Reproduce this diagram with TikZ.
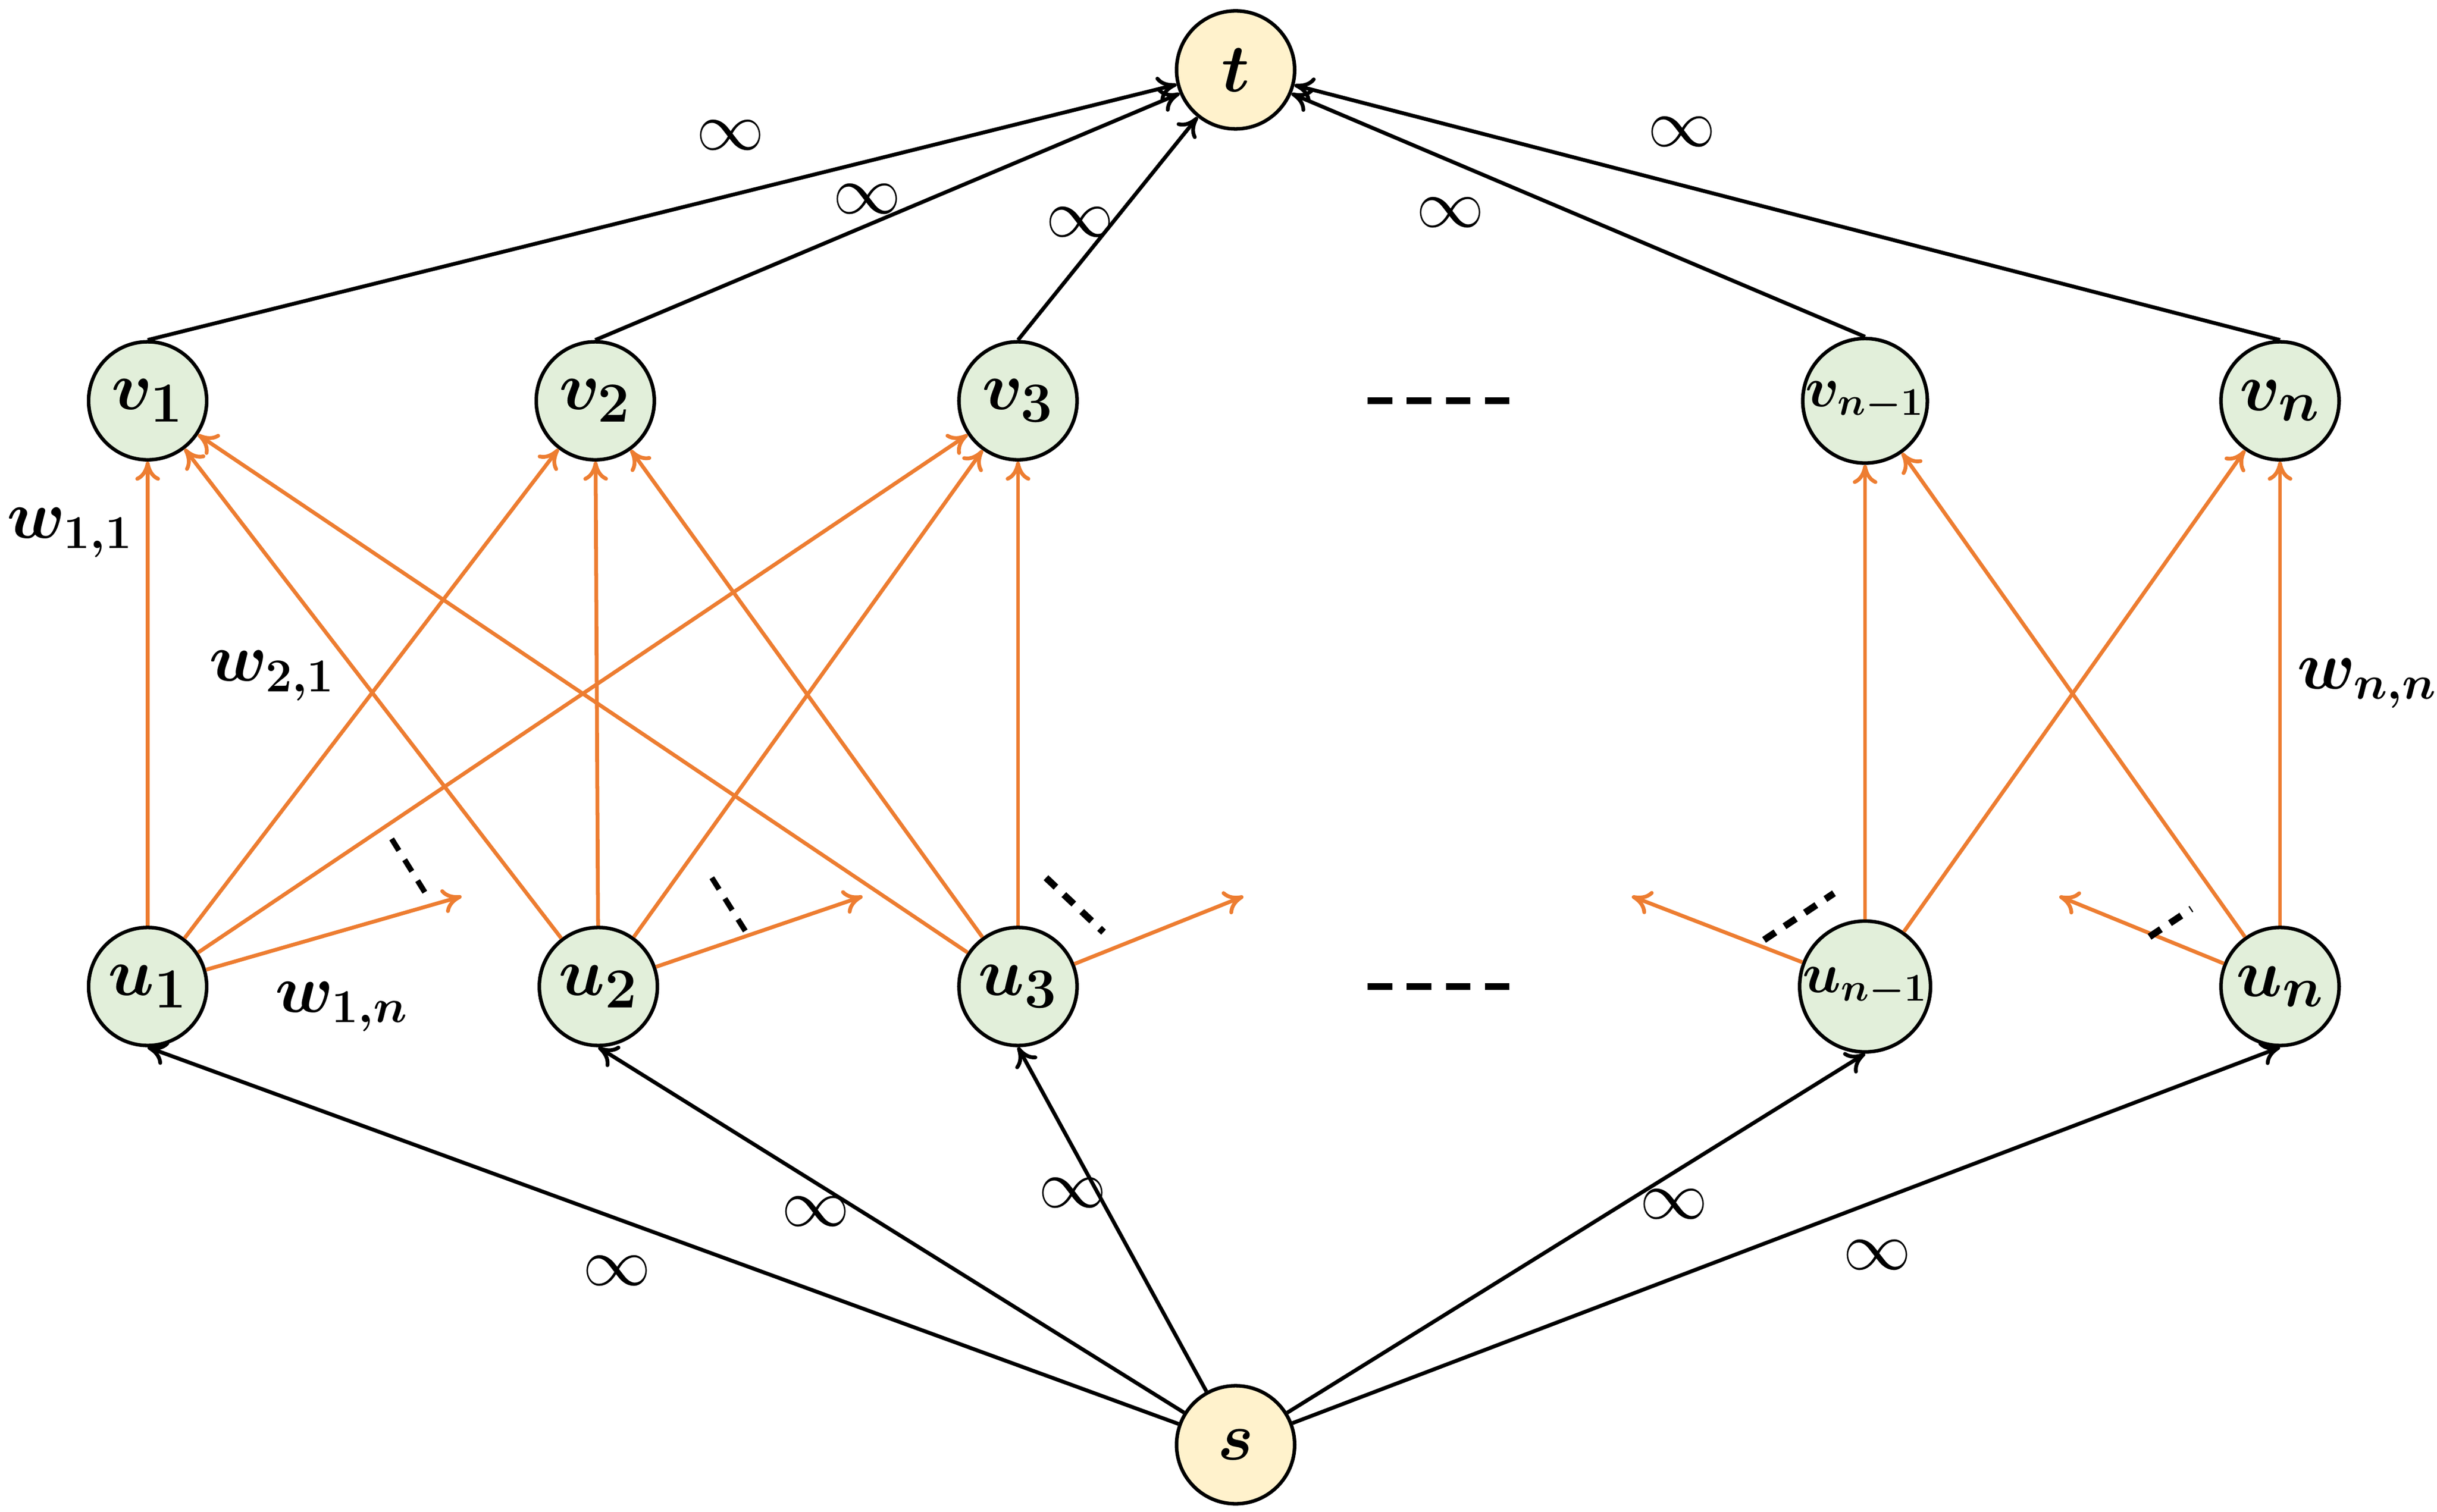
\documentclass[tikz,border=0pt]{standalone}
\usetikzlibrary{arrows.meta}
\definecolor{ngreen}{HTML}{E2EFDA}
\definecolor{nyellow}{HTML}{FFF2CC}
\definecolor{eorange}{HTML}{ED7D31}
\begin{document}
\begin{tikzpicture}[x=0.02cm,y=-0.02cm,
  vnode/.style={circle,draw,line width=1.3pt,fill=ngreen,minimum size=1.52cm,inner sep=0pt,font=\fontsize{32}{36}\selectfont\boldmath},
  vsmall/.style={vnode,font=\fontsize{20}{24}\selectfont\boldmath},
  tnode/.style={vnode,fill=nyellow},
  blk/.style={line width=1.4pt,-{To[length=7pt,width=9pt]}},
  org/.style={eorange,line width=1.4pt,-{To[length=7pt,width=9pt]}},
  lab/.style={font=\fontsize{26}{30}\selectfont},
  wlab/.style={font=\fontsize{26}{30}\selectfont\boldmath},
  dsh/.style={line width=2pt,dash pattern=on 5pt off 4pt},
  bigdsh/.style={line width=2.5pt,dash pattern=on 9pt off 5.3pt}]
\useasboundingbox (0,0) rectangle (1568,973);
\node[tnode] (t) at (795,45) {$t$};
\node[tnode] (s) at (795,930) {$s$};
\node[vnode] (v1) at (95,258) {$v_1$};
\node[vnode] (v2) at (383,258) {$v_2$};
\node[vnode] (v3) at (655,258) {$v_3$};
\node[vsmall] (vm) at (1200,258) {$v_{n-1}$};
\node[vnode] (vn) at (1467,258) {$v_n$};
\node[vnode] (u1) at (95,635) {$u_1$};
\node[vnode] (u2) at (385,635) {$u_2$};
\node[vnode] (u3) at (655,635) {$u_3$};
\node[vsmall] (um) at (1200,635) {$u_{n-1}$};
\node[vnode] (un) at (1467,635) {$u_n$};
\coordinate (e1) at (297,577);
\coordinate (e2) at (555,577);
\coordinate (e3) at (800,577);
\coordinate (e4) at (1050,577);
\coordinate (e5) at (1325,577);
\foreach \v in {v1,v2,v3,vm,vn} \draw[blk] (\v.north) -- (t);
\foreach \u in {u1,u2,u3,um,un} \draw[blk] (s) -- (\u.south);
\foreach \u in {u1,u2,u3} {\foreach \v in {v1,v2,v3} \draw[org] (\u) -- (\v);}
\foreach \u in {um,un} {\foreach \v in {vm,vn} \draw[org] (\u) -- (\v);}
\draw[org] (u1) -- (e1);
\draw[org] (u2) -- (e2);
\draw[org] (u3) -- (e3);
\draw[org] (um) -- (e4);
\draw[org] (un) -- (e5);
\coordinate (d1a) at (252,540); \coordinate (d1b) at (275,577);
\draw[dsh] (d1a) -- (d1b);
\coordinate (d2a) at (458,565); \coordinate (d2b) at (480,600);
\draw[dsh] (d2a) -- (d2b);
\coordinate (d3a) at (673,565); \coordinate (d3b) at (710,600);
\draw[dsh,line width=2.5pt] (d3a) -- (d3b);
\coordinate (d4a) at (1135,605); \coordinate (d4b) at (1180,575);
\draw[dsh,line width=2.5pt] (d4a) -- (d4b);
\coordinate (d5a) at (1383,603); \coordinate (d5b) at (1410,585);
\draw[dsh,line width=2.5pt] (d5a) -- (d5b);
\coordinate (h1a) at (880,258); \coordinate (h1b) at (972,258);
\draw[bigdsh] (h1a) -- (h1b);
\coordinate (h2a) at (880,635); \coordinate (h2b) at (972,635);
\draw[bigdsh] (h2a) -- (h2b);
\node[lab] (i1) at (470,87) {$\infty$};
\node[lab] (i2) at (558,128) {$\infty$};
\node[lab] (i3) at (695,143) {$\infty$};
\node[lab] (i4) at (933,137) {$\infty$};
\node[lab] (i5) at (1082,85) {$\infty$};
\node[lab] (i6) at (397,818) {$\infty$};
\node[lab] (i7) at (525,780) {$\infty$};
\node[lab] (i8) at (690,768) {$\infty$};
\node[lab] (i9) at (1077,775) {$\infty$};
\node[lab] (i10) at (1208,808) {$\infty$};
\node[wlab] (w11) at (45,343) {$w_{1,1}$};
\node[wlab] (w21) at (175,435) {$w_{2,1}$};
\node[wlab] (w1n) at (220,648) {$w_{1,n}$};
\node[wlab] (wnn) at (1523,440) {$w_{n,n}$};
\end{tikzpicture}
\end{document}
